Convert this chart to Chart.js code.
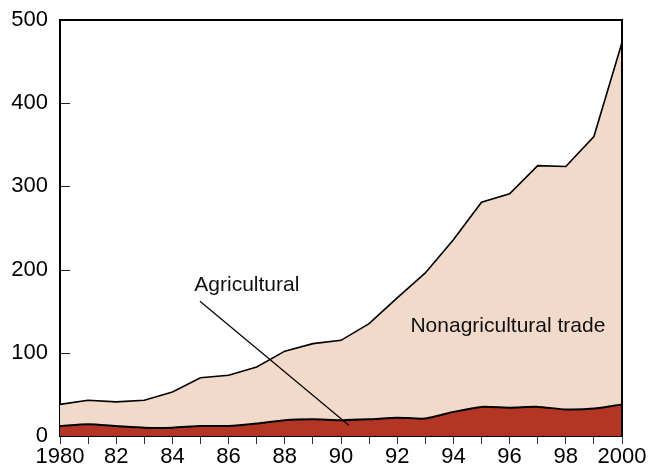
<!DOCTYPE html>
<html><head><meta charset="utf-8">
<script src="https://cdn.jsdelivr.net/npm/chart.js@4"></script>
<style>html,body{margin:0;padding:0;background:#fff}#wrap{width:652px;height:470px}</style>
</head><body><div id="wrap"><canvas id="c" width="652" height="470"></canvas></div>
<script>
const years = [1980,1981,1982,1983,1984,1985,1986,1987,1988,1989,1990,1991,1992,1993,1994,1995,1996,1997,1998,1999,2000];
const totalTrade = [38,43,41,43,53,70,73,83,102,111,115,135,166,196,236,281,291,325,324,360,473];
const agricultural = [12,14,12,10,10,12,12,15,19,20,19,20,22,21,29,35,34,35,32,33,38];
const xTickLabels = ['1980','','82','','84','','86','','88','','90','','92','','94','','96','','98','','2000'];
const yTickValues = [0,100,200,300,400,500];
const annotations = [
  {text:'Agricultural', x:6.65, y:181},
  {text:'Nonagricultural trade', x:15.94, y:132}
];
const pointerLine = {x1:4.98, y1:162, x2:10.28, y2:13};

const FONT = '"Liberation Sans", Arial, sans-serif';
const PEACH = '#F2DACB';
const RED = '#B33625';

const framePlugin = {
  id:'frame',
  afterDraw(chart){
    const {ctx, chartArea:a, scales:{x,y}} = chart;
    ctx.save();
    ctx.strokeStyle = '#222'; ctx.lineWidth = 1;
    yTickValues.forEach(v=>{
      if (v===0||v===500) return;
      const py = Math.round(y.getPixelForValue(v))+0.5;
      ctx.beginPath(); ctx.moveTo(a.left, py); ctx.lineTo(a.left+10, py); ctx.stroke();
    });
    ctx.strokeStyle = '#000'; ctx.lineWidth = 2;
    ctx.beginPath();
    ctx.moveTo(a.left, a.top); ctx.lineTo(a.right, a.top); ctx.lineTo(a.right, a.bottom);
    ctx.stroke();
    ctx.lineWidth = 1.2;
    ctx.beginPath();
    ctx.moveTo(x.getPixelForValue(pointerLine.x1), y.getPixelForValue(pointerLine.y1));
    ctx.lineTo(x.getPixelForValue(pointerLine.x2), y.getPixelForValue(pointerLine.y2));
    ctx.stroke();
    ctx.fillStyle = '#111';
    ctx.font = '21px ' + FONT;
    ctx.textAlign = 'center'; ctx.textBaseline = 'middle';
    annotations.forEach(an=>{
      ctx.fillText(an.text, x.getPixelForValue(an.x), y.getPixelForValue(an.y));
    });
    ctx.restore();
  }
};

new Chart(document.getElementById('c'), {
  type:'line',
  data:{
    labels: years,
    datasets:[
      {label:'Nonagricultural trade', data: totalTrade, fill:'origin', backgroundColor: PEACH,
       borderColor:'#000', borderWidth:1.6, pointRadius:0, tension:0, order:2},
      {label:'Agricultural', data: agricultural, fill:'origin', backgroundColor: RED,
       borderColor:'#000', borderWidth:2, pointRadius:0, tension:0.2, order:1}
    ]
  },
  options:{
    responsive:false, animation:false, devicePixelRatio:1,
    layout:{padding:{left:0,right:30,top:20,bottom:0}},
    plugins:{legend:{display:false}, tooltip:{enabled:false}},
    scales:{
      x:{
        type:'category', offset:false,
        grid:{display:true, drawOnChartArea:false, drawTicks:true, tickLength:8, color:'#333', lineWidth:1},
        border:{display:true, color:'#000', width:2},
        ticks:{autoSkip:false, maxRotation:0, padding:0, color:'#000', font:{family:FONT, size:22},
          callback:(v,i)=>xTickLabels[i]},
        afterFit:s=>{s.height = 34;}
      },
      y:{
        min:0, max:500,
        afterBuildTicks:s=>{s.ticks = yTickValues.map(v=>({value:v}));},
        grid:{display:true, drawOnChartArea:false, drawTicks:true, tickLength:12, color:'rgba(0,0,0,0)'},
        border:{display:true, color:'#000', width:2},
        ticks:{padding:0, color:'#000', font:{family:FONT, size:22}},
        afterFit:s=>{s.width = 60;}
      }
    }
  },
  plugins:[framePlugin]
});
</script></body></html>
